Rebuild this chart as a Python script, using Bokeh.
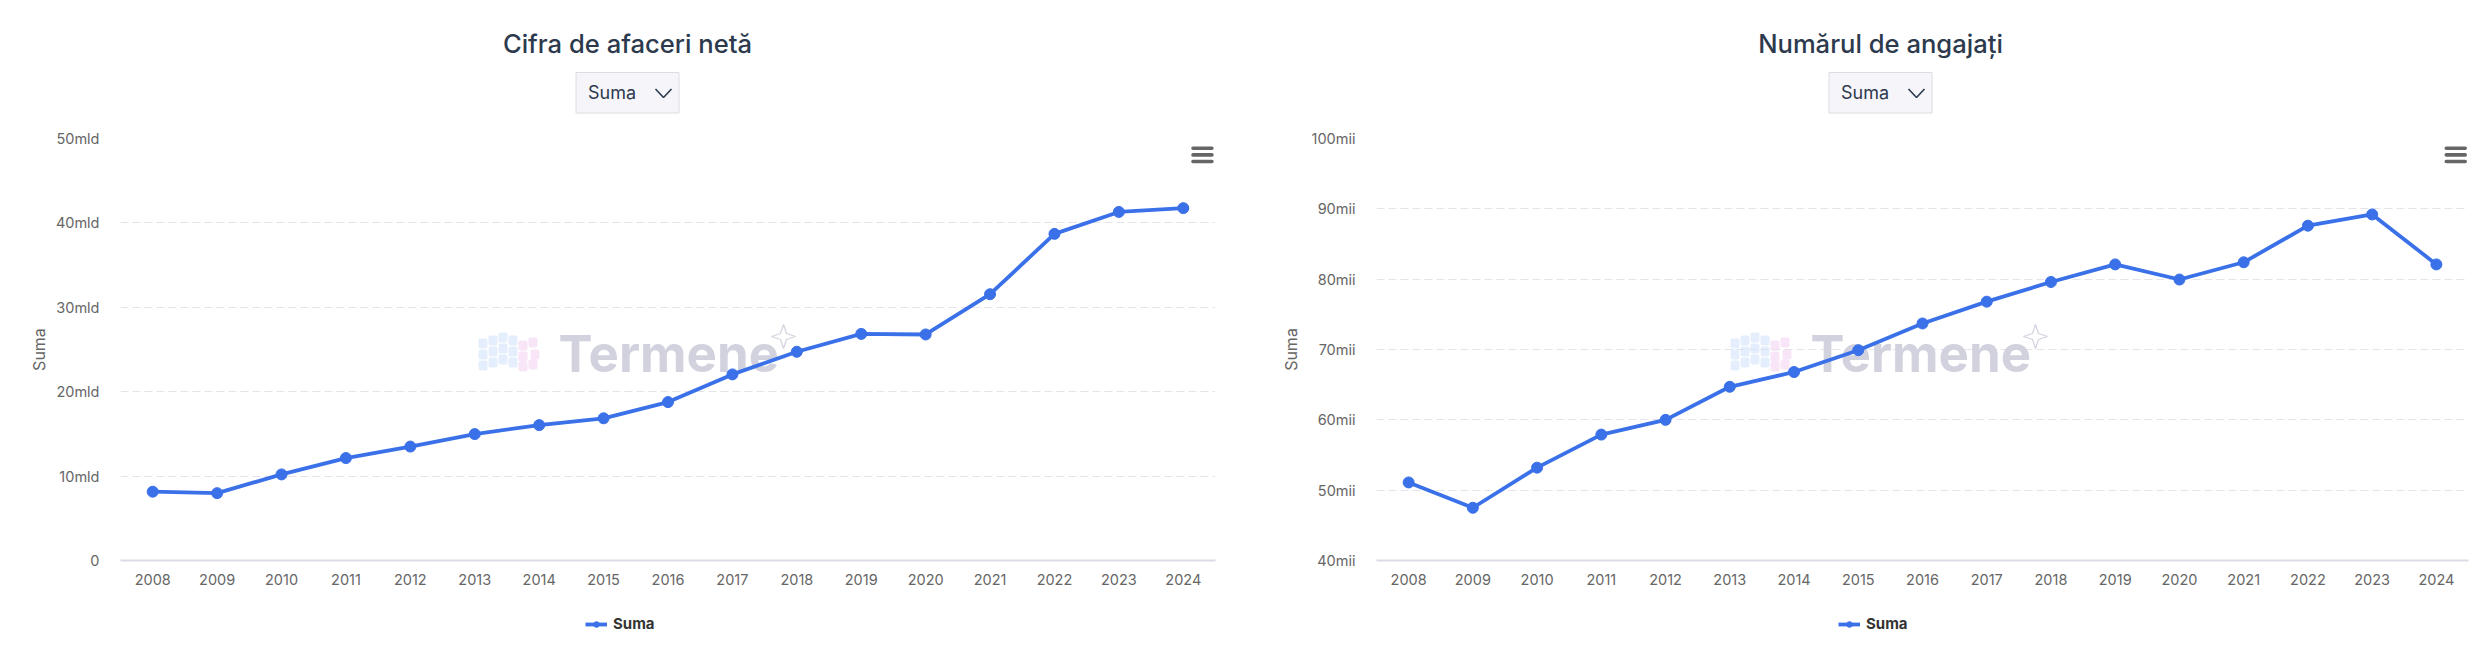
from bokeh.embed import file_html
from bokeh.resources import INLINE
from bokeh.layouts import column, row
from bokeh.models import (BoxAnnotation, ColumnDataSource, FactorRange, FixedTicker, Label,
                          Legend, LegendItem, PolyAnnotation, Range1d)
from bokeh.plotting import figure

years = ["2008", "2009", "2010", "2011", "2012", "2013", "2014", "2015", "2016",
         "2017", "2018", "2019", "2020", "2021", "2022", "2023", "2024"]
turnover = [8.15, 7.98, 10.2, 12.14, 13.5, 14.98, 16.04, 16.85, 18.77,
            22.05, 24.73, 26.85, 26.78, 31.55, 38.7, 41.3, 41.75]
employees = [51.1, 47.5, 53.2, 57.9, 60.0, 64.7, 66.8, 69.9, 73.7,
             76.8, 79.6, 82.1, 79.95, 82.4, 87.6, 89.2, 82.1]
turnover_ticks = [0, 10, 20, 30, 40, 50]
turnover_labels = ["0", "10mld", "20mld", "30mld", "40mld", "50mld"]
employee_ticks = [40, 50, 60, 70, 80, 90, 100]
employee_labels = ["40mii", "50mii", "60mii", "70mii", "80mii", "90mii", "100mii"]
titles = ["Cifra de afaceri netă", "Numărul de angajați"]
series_name = "Suma"

BLUE = "#3a70e8"
FONT = "Inter"
INK = "#2d3a4e"
GREY = "#666666"
HEADER_H = 128
CHART_H = 472
FOOTER_H = 60

CUBE_BLUE = [(0, 6), (10, 3), (20, 0), (0, 17), (10, 14), (20, 11), (0, 28), (10, 25), (20, 22), (30, 3), (30, 14), (30, 25)]
CUBE_PINK = [(40, 8), (50, 5), (40, 19), (52, 17), (40, 29), (50, 27)]


def box(p, l, t, r, b, ox, oy=HEADER_H, **kw):
    p.add_layout(BoxAnnotation(left=l - ox, right=r - ox, top=t - oy, bottom=b - oy,
                               left_units="canvas", right_units="canvas",
                               top_units="canvas", bottom_units="canvas", **kw))


def text(p, s, x, y, ox, oy=HEADER_H, **kw):
    p.add_layout(Label(x=x - ox, y=y - oy, x_units="canvas", y_units="canvas", text=s,
                       text_font=kw.pop("text_font", FONT), **kw))


def chart(values, ticks, labels, ymin, ymax, ox, width, frame_w, right, label_gap, burger, shift):
    p = figure(x_range=FactorRange(factors=years), y_range=Range1d(ymin, ymax),
               width=width, height=CHART_H, frame_width=frame_w, frame_height=422,
               output_backend="svg", toolbar_location=None,
               min_border_left=120, min_border_right=right, min_border_top=10, min_border_bottom=0)
    p.outline_line_color = None
    p.background_fill_color = "white"
    p.xgrid.visible = False
    p.ygrid.grid_line_color = "#e4e4ea"
    p.ygrid.grid_line_dash = [8, 4]
    p.ygrid.grid_line_width = 1
    ya = p.yaxis[0]
    ya.ticker = FixedTicker(ticks=ticks)
    ya.major_label_overrides = dict(zip(ticks, labels))
    ya.axis_line_color = None
    ya.major_tick_line_color = None
    ya.minor_tick_line_color = None
    ya.major_label_standoff = 15
    ya.major_label_text_font = FONT
    ya.major_label_text_font_size = "14.5px"
    ya.major_label_text_color = GREY
    ya.axis_label = series_name
    ya.axis_label_text_font = FONT
    ya.axis_label_text_font_style = "normal"
    ya.axis_label_text_font_size = "16px"
    ya.axis_label_text_color = GREY
    ya.axis_label_standoff = label_gap
    xa = p.xaxis[0]
    xa.axis_line_color = "#dcdce6"
    xa.axis_line_width = 2
    xa.major_tick_line_color = None
    xa.minor_tick_line_color = None
    xa.major_label_standoff = 7
    xa.major_label_text_font = FONT
    xa.major_label_text_font_size = "14.5px"
    xa.major_label_text_color = GREY

    # watermark (behind the line)
    for dx, dy in CUBE_BLUE:
        box(p, 478 + shift + dx, 332 + dy, 478 + shift + dx + 9, 332 + dy + 10, ox,
            fill_color="#cfe0fa", fill_alpha=0.55, line_color=None, level="underlay", border_radius=2)
    for dx, dy in CUBE_PINK:
        box(p, 478 + shift + dx, 332 + dy, 478 + shift + dx + 9, 332 + dy + 10, ox,
            fill_color="#f3d3f4", fill_alpha=0.6, line_color=None, level="underlay", border_radius=2)
    text(p, "Termene", 558 + shift, 353, ox, text_font_size="51px", text_font_style="bold",
         text_color="#d2d2df", text_align="left", text_baseline="middle", level="underlay")
    sx, sy = 783 + shift, 336 - HEADER_H
    p.add_layout(PolyAnnotation(
        xs=[v - ox for v in (sx, sx + 3, sx + 12, sx + 3, sx, sx - 3, sx - 12, sx - 3)],
        ys=[sy - 12, sy - 3, sy, sy + 3, sy + 12, sy + 3, sy, sy - 3],
        xs_units="canvas", ys_units="canvas",
        fill_alpha=0, line_color="#d2d2df", line_alpha=1, line_width=1.2, level="underlay"))

    src = ColumnDataSource(dict(year=years, value=values))
    p.line("year", "value", source=src, line_color=BLUE, line_width=3.8)
    p.scatter("year", "value", source=src, size=11, fill_color=BLUE, line_color=BLUE)

    # export menu icon
    for y in (147.7, 154.4, 161):
        box(p, burger, y - 1.8, burger + 22.5, y + 1.8, ox, fill_color=GREY, fill_alpha=1,
            line_color=None, border_radius=2)
    return p


header = figure(width=2485, height=HEADER_H, x_range=Range1d(0, 2485), y_range=Range1d(HEADER_H, 0),
                x_axis_type=None, y_axis_type=None, output_backend="svg", toolbar_location=None,
                min_border=0)
header.outline_line_color = None
header.grid.visible = False
for title, cx in zip(titles, (627, 1880)):
    text(header, title, cx, 43, 0, oy=0, text_font="'Inter Medium', Inter", text_font_size="25.6px",
         text_color=INK, text_align="center", text_baseline="middle")
    box(header, cx - 51.5, 72, cx + 51.5, 112.5, 0, oy=0, fill_color="#f5f5fa", fill_alpha=1,
        line_color="#dcdce2", line_width=1, line_alpha=1)
    text(header, series_name, cx - 39.5, 91.5, 0, oy=0, text_font_size="18px", text_color=INK,
         text_align="left", text_baseline="middle")
    header.line([cx + 28, cx + 36, cx + 44], [88.5, 97, 88.5], line_color=INK, line_width=1.6,
                level="overlay")

footer = figure(width=2485, height=FOOTER_H, x_range=Range1d(0, 2485), y_range=Range1d(0, FOOTER_H),
                x_axis_type=None, y_axis_type=None, output_backend="svg", toolbar_location=None,
                min_border=0)
footer.outline_line_color = None
footer.grid.visible = False
for legend_x in (585, 1838):
    # legend keys only: the points lie outside the footer's visible range
    key_line = footer.line([-100, -90], [-100, -100], line_color=BLUE, line_width=3.8)
    key_dot = footer.scatter([-100], [-100], size=11, fill_color=BLUE, line_color=BLUE)
    footer.add_layout(Legend(items=[LegendItem(label=series_name, renderers=[key_line, key_dot])],
                             location=(legend_x, 14), orientation="horizontal",
                             border_line_color=None, background_fill_alpha=0, padding=0, margin=0,
                             glyph_width=22, glyph_height=14, label_standoff=6,
                             label_text_font=FONT, label_text_font_size="15px",
                             label_text_font_style="bold", label_text_color="#333333"))

left_chart = chart(turnover, turnover_ticks, turnover_labels, 0, 50, 0, 1256,
                   1095, 41, 4, 1190.7, 0)
right_chart = chart(employees, employee_ticks, employee_labels, 40, 100, 1256, 1229,
                    1092, 17, 8, 2444, 1252)

page = column(header, row(left_chart, right_chart, spacing=0), footer, spacing=0)
open("out.html", "w").write(file_html(page, INLINE))
